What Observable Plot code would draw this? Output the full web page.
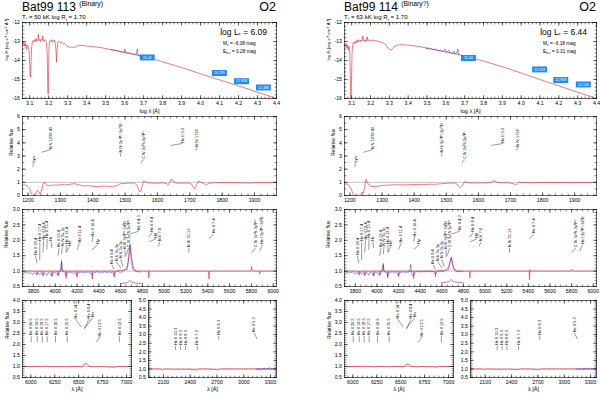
<!DOCTYPE html>
<html><head><meta charset="utf-8">
<script src="https://cdn.jsdelivr.net/npm/d3@7"></script>
<script src="https://cdn.jsdelivr.net/npm/@observablehq/plot@0.6"></script>
<style>
html,body{margin:0;padding:0;background:#fff;}
#fig{position:relative;width:600px;height:394px;overflow:hidden;background:#fff;}
#fig svg{position:absolute;}
</style></head><body><div id="fig"></div>
<script>
// ---------------- header values ----------------
const stars = ["Bat99 113", "Bat99 114"];
const binaryNotes = ["(Binary)", "(Binary?)"];
const spTypes = ["O2", "O2"];
const tStars = ["50", "63"];
const logRts = ["1.70", "1.70"];
const logLs = ["6.09", "6.44"];
const mvs = ["-6.08", "-6.18"];
const ebvs = ["0.28", "0.31"];

// ---------------- photometry boxes ----------------
const photMag113 = ["15.41", "13.235", "12.958", "12.486"];
const photLogLam113 = [3.719, 4.099, 4.216, 4.331];
const photLogF113 = [-13.84, -14.66, -15.09, -15.42];
const photMag114 = ["15.40", "13.193", "12.958", "12.156"];
const photLogLam114 = [3.720, 4.098, 4.210, 4.330];
const photLogF114 = [-13.87, -14.47, -15.03, -15.26];

// ---------------- SED model / observed (log lambda, log f) ----------------
const sedModel113 = [[3.062,-13.05],[3.066,-13.15],[3.070,-13.02],[3.074,-13.25],[3.078,-13.10],[3.082,-13.40],[3.086,-13.18],[3.090,-13.22],[3.094,-13.35],[3.098,-13.60],[3.101,-14.50],[3.104,-14.88],[3.107,-14.20],[3.110,-13.30],[3.114,-13.05],[3.118,-12.95],[3.122,-13.02],[3.126,-12.90],[3.130,-13.00],[3.134,-12.85],[3.138,-12.98],[3.142,-12.92],[3.146,-12.62],[3.149,-12.95],[3.153,-12.90],[3.157,-13.00],[3.161,-12.88],[3.165,-12.95],[3.169,-12.70],[3.172,-12.93],[3.176,-12.98],[3.180,-12.90],[3.184,-12.95],[3.188,-13.05],[3.192,-13.60],[3.195,-15.20],[3.197,-15.76],[3.199,-14.80],[3.202,-13.20],[3.206,-12.95],[3.210,-12.98],[3.214,-12.90],[3.218,-13.02],[3.222,-12.95],[3.226,-13.00],[3.230,-12.92],[3.234,-13.05],[3.238,-13.40],[3.241,-14.09],[3.244,-13.50],[3.248,-13.02],[3.254,-12.98],[3.260,-13.05],[3.266,-13.02],[3.272,-13.08],[3.278,-13.12],[3.284,-13.10],[3.290,-13.18],[3.296,-13.22],[3.302,-13.30],[3.308,-13.26],[3.314,-13.32],[3.320,-13.28],[3.326,-13.34],[3.332,-13.27],[3.338,-13.31],[3.345,-13.25],[3.355,-13.22],[3.370,-13.20],[3.385,-13.22],[3.400,-13.24],[3.420,-13.26],[3.440,-13.28],[3.460,-13.30],[3.480,-13.33],[3.500,-13.37],[3.525,-13.42],[3.550,-13.47],[3.575,-13.53],[3.600,-13.58],[3.625,-13.63],[3.650,-13.68],[3.683,-13.75],[3.700,-13.80],[3.750,-13.93],[3.800,-14.07],[3.850,-14.22],[3.900,-14.37],[3.950,-14.53],[4.000,-14.70],[4.050,-14.86],[4.100,-15.02],[4.150,-15.18],[4.200,-15.34],[4.250,-15.50],[4.300,-15.67],[4.350,-15.83],[4.400,-16.00]];
const sedObs113 = [[3.525,-13.40],[3.533,-13.46],[3.541,-13.42],[3.549,-13.50],[3.557,-13.45],[3.565,-13.53],[3.573,-13.49],[3.581,-13.56],[3.589,-13.52],[3.597,-13.60],[3.601,-13.40],[3.605,-13.58],[3.613,-13.62],[3.621,-13.58],[3.629,-13.65],[3.637,-13.62],[3.645,-13.68],[3.653,-13.64],[3.661,-13.70],[3.667,-13.40],[3.671,-13.72],[3.679,-13.76],[3.683,-13.74]];
const sedModel114 = [[3.062,-13.17],[3.066,-13.25],[3.070,-13.10],[3.074,-13.35],[3.078,-13.20],[3.082,-13.45],[3.086,-13.25],[3.090,-13.60],[3.093,-14.80],[3.096,-16.00],[3.099,-15.20],[3.102,-13.60],[3.106,-13.15],[3.110,-13.05],[3.114,-13.12],[3.118,-13.00],[3.122,-13.08],[3.126,-12.95],[3.130,-13.05],[3.134,-12.90],[3.138,-13.00],[3.142,-12.95],[3.146,-13.02],[3.150,-12.92],[3.154,-12.98],[3.158,-12.70],[3.162,-12.95],[3.166,-12.90],[3.170,-13.00],[3.174,-12.92],[3.178,-12.97],[3.182,-12.75],[3.186,-12.95],[3.190,-12.90],[3.195,-12.98],[3.200,-12.92],[3.206,-12.95],[3.212,-12.93],[3.218,-12.96],[3.225,-12.95],[3.235,-12.98],[3.245,-13.00],[3.255,-13.03],[3.265,-13.06],[3.275,-13.12],[3.285,-13.22],[3.292,-13.35],[3.300,-13.42],[3.308,-13.45],[3.316,-13.40],[3.324,-13.30],[3.332,-13.24],[3.340,-13.20],[3.355,-13.18],[3.370,-13.17],[3.390,-13.18],[3.410,-13.20],[3.430,-13.22],[3.450,-13.25],[3.475,-13.30],[3.500,-13.35],[3.525,-13.40],[3.550,-13.45],[3.575,-13.50],[3.600,-13.55],[3.625,-13.60],[3.650,-13.65],[3.675,-13.70],[3.700,-13.76],[3.750,-13.89],[3.800,-14.03],[3.850,-14.18],[3.900,-14.33],[3.950,-14.49],[4.000,-14.66],[4.050,-14.83],[4.100,-15.00],[4.150,-15.17],[4.200,-15.33],[4.250,-15.50],[4.300,-15.67],[4.350,-15.83],[4.400,-16.00]];
const sedObs114 = [[3.492,-13.33],[3.500,-13.38],[3.508,-13.34],[3.516,-13.41],[3.524,-13.37],[3.532,-13.44],[3.540,-13.40],[3.548,-13.47],[3.556,-13.43],[3.564,-13.50],[3.572,-13.46],[3.580,-13.53],[3.588,-13.49],[3.596,-13.40],[3.600,-13.57],[3.608,-13.52],[3.616,-13.45],[3.620,-13.60],[3.628,-13.56],[3.636,-13.63],[3.644,-13.50],[3.648,-13.66],[3.656,-13.62],[3.664,-13.40],[3.668,-13.68]];

// ---------------- UV spectra (lambda, relative flux) ----------------
const uv113 = [[1183,0.78],[1192,0.80],[1200,0.70],[1206,0.45],[1211,0.12],[1216,0.0],[1221,0.02],[1226,0.25],[1229,0.38],[1233,0.30],[1237,0.13],[1241,0.30],[1246,0.80],[1250,1.01],[1254,0.90],[1259,0.76],[1268,0.74],[1278,0.80],[1290,0.78],[1302,0.83],[1316,0.80],[1331,0.86],[1344,0.90],[1356,0.82],[1372,0.72],[1386,0.75],[1401,0.70],[1416,0.66],[1431,0.72],[1446,0.70],[1461,0.68],[1476,0.76],[1486,0.90],[1501,0.92],[1516,0.95],[1528,0.94],[1536,0.80],[1542,0.45],[1546,0.25],[1550,0.40],[1554,0.85],[1558,1.10],[1564,1.02],[1576,0.95],[1596,0.93],[1616,0.96],[1628,0.90],[1634,0.82],[1639,1.05],[1643,1.26],[1648,1.10],[1656,0.95],[1676,0.94],[1696,0.95],[1706,0.85],[1711,0.62],[1715,0.50],[1720,0.75],[1727,1.10],[1734,1.00],[1744,0.92],[1751,0.80],[1758,0.92],[1776,0.97],[1806,0.98],[1846,0.97],[1886,0.94],[1896,0.97],[1968,0.98]];
const uv114 = [[1183,0.88],[1192,0.86],[1200,0.70],[1206,0.35],[1211,0.05],[1218,0.0],[1226,0.0],[1234,0.05],[1238,0.25],[1242,0.18],[1246,0.70],[1250,1.22],[1255,0.95],[1261,0.75],[1268,0.68],[1281,0.70],[1296,0.74],[1311,0.78],[1326,0.80],[1346,0.82],[1366,0.80],[1386,0.82],[1406,0.84],[1426,0.82],[1446,0.86],[1466,0.85],[1486,0.90],[1506,0.94],[1526,0.95],[1534,0.85],[1540,0.65],[1544,0.60],[1550,0.72],[1557,1.05],[1564,0.98],[1581,0.95],[1606,0.96],[1631,0.96],[1641,1.02],[1649,1.13],[1656,1.02],[1671,0.97],[1696,0.96],[1708,0.90],[1716,0.82],[1722,0.88],[1728,1.02],[1736,0.98],[1766,0.97],[1806,0.99],[1866,0.98],[1968,0.99]];

// ---------------- optical spectra ----------------
const optObs113 = [[3700,0.96],[3712,0.93],[3724,0.97],[3736,0.94],[3748,0.96],[3760,0.92],[3772,0.95],[3784,0.93],[3796,0.89],[3808,0.95],[3820,0.93],[3834,0.87],[3846,0.95],[3858,0.89],[3870,0.96],[3887,0.85],[3900,0.95],[3912,0.93],[3923,0.86],[3936,0.96],[3950,0.94],[3970,0.83],[3984,0.96],[3998,0.95],[4012,0.93],[4026,0.86],[4040,0.97],[4050,1.06],[4058,1.35],[4064,1.08],[4074,0.97],[4088,0.95],[4100,0.85],[4112,0.96],[4126,0.94],[4140,0.97],[4154,0.95],[4168,0.93],[4182,0.96],[4200,0.87],[4214,0.96],[4228,0.95],[4242,0.97],[4256,0.94],[4270,0.96],[4284,0.95],[4298,0.97],[4312,0.93],[4326,0.95],[4340,0.86],[4354,0.96],[4368,0.95],[4382,0.98],[4396,0.96],[4410,0.94],[4424,0.97],[4438,0.95],[4452,0.98],[4466,0.96],[4480,0.94],[4494,0.97],[4508,0.95],[4522,0.96],[4541,0.87],[4556,0.97],[4570,0.99],[4584,0.98],[4598,0.95],[4612,0.98],[4626,1.02],[4640,1.04],[4652,1.10],[4664,1.20],[4674,1.45],[4682,1.78],[4688,1.88],[4694,1.72],[4702,1.42],[4712,1.18],[4724,1.06],[4738,1.00],[4752,0.97],[4766,0.99],[4780,0.96]];
const optModel113 = [[3700,1.0],[3830,1.0],[3834,0.9],[3838,1.0],[3884,1.0],[3889,0.86],[3894,1.0],[3966,1.0],[3970,0.84],[3974,1.0],[4022,1.0],[4026,0.86],[4030,1.0],[4054,1.0],[4058,1.3],[4062,1.0],[4096,1.0],[4100,0.76],[4104,1.0],[4196,1.0],[4200,0.8],[4204,1.0],[4336,1.0],[4340,0.74],[4344,1.0],[4537,1.0],[4541,0.8],[4545,1.0],[4660,1.05],[4675,1.4],[4686,1.8],[4697,1.4],[4712,1.05],[4740,1.0],[4855,1.0],[4859,0.78],[4862,0.92],[4866,1.02],[4872,1.0],[5406,1.0],[5411,0.74],[5416,1.0],[5796,1.0],[5801,1.15],[5806,1.06],[5812,1.0],[5871,1.0],[5876,0.9],[5881,1.0],[6030,1.0]];
const optResid113 = [[4600,0.60],[4640,0.61],[4665,0.63],[4680,0.68],[4690,0.69],[4705,0.63],[4740,0.61],[4790,0.60]];
const optObs114 = [[3700,0.98],[3712,0.95],[3724,0.97],[3736,0.93],[3748,0.96],[3760,0.94],[3772,0.97],[3784,0.95],[3796,0.90],[3808,0.96],[3820,0.94],[3834,0.88],[3846,0.97],[3858,0.90],[3870,0.96],[3887,0.85],[3900,0.97],[3912,0.94],[3923,0.87],[3936,0.97],[3950,0.95],[3970,0.84],[3984,0.97],[3998,0.95],[4012,0.93],[4026,0.86],[4040,0.98],[4050,1.08],[4058,1.25],[4064,1.05],[4074,0.96],[4088,0.95],[4100,0.84],[4112,0.97],[4126,0.95],[4140,0.98],[4154,0.94],[4168,0.97],[4182,0.95],[4200,0.86],[4214,0.97],[4228,0.95],[4242,0.98],[4256,0.94],[4270,0.97],[4284,0.95],[4298,0.98],[4306,1.05],[4312,1.22],[4318,1.0],[4326,0.85],[4340,0.88],[4354,0.96],[4368,0.99],[4382,0.97],[4396,1.0],[4410,0.96],[4424,0.99],[4438,0.97],[4452,1.0],[4466,0.98],[4480,1.01],[4494,0.97],[4508,1.0],[4522,0.98],[4541,0.90],[4556,0.99],[4570,1.01],[4584,0.98],[4598,1.0],[4612,0.97],[4626,1.02],[4640,1.04],[4652,1.08],[4664,1.15],[4674,1.28],[4682,1.40],[4688,1.46],[4694,1.38],[4702,1.22],[4712,1.10],[4724,1.03],[4738,1.0],[4752,0.98],[4766,1.0],[4780,0.97],[4792,0.99]];
const optModel114 = [[3700,1.0],[3830,1.0],[3834,0.9],[3838,1.0],[3884,1.0],[3889,0.87],[3894,1.0],[3966,1.0],[3970,0.85],[3974,1.0],[4022,1.0],[4026,0.87],[4030,1.0],[4054,1.0],[4058,1.2],[4062,1.0],[4096,1.0],[4100,0.78],[4104,1.0],[4196,1.0],[4200,0.82],[4204,1.0],[4336,1.0],[4340,0.76],[4344,1.0],[4537,1.0],[4541,0.82],[4545,1.0],[4660,1.04],[4675,1.25],[4686,1.42],[4697,1.25],[4712,1.04],[4740,1.0],[4855,1.0],[4859,0.78],[4862,0.92],[4866,1.02],[4872,1.0],[5406,1.0],[5411,0.72],[5414,1.05],[5418,1.0],[5796,1.0],[5801,1.06],[5806,1.03],[5812,1.0],[6030,1.0]];
const optResid114 = [[4600,0.63],[4640,0.64],[4665,0.66],[4680,0.71],[4690,0.72],[4705,0.66],[4740,0.64],[4790,0.63]];

// ---------------- red window (6000-7000 A) ----------------
const irModel113 = [[5913,1.0],[6040,1.0],[6130,0.99],[6150,1.03],[6170,1.0],[6236,0.98],[6250,1.0],[6400,0.98],[6420,1.0],[6515,1.0],[6530,0.96],[6545,1.02],[6560,1.1],[6575,1.16],[6592,1.08],[6610,1.0],[6680,0.98],[6700,1.0],[6885,0.96],[6900,1.0],[7052,1.0]];
const irObs113 = [[6480,1.0],[6520,1.01],[6545,1.06],[6565,1.12],[6580,1.15],[6600,1.06],[6630,1.0]];
const irModel114 = [[5913,1.0],[6040,1.0],[6130,0.99],[6150,1.02],[6170,1.0],[6236,0.98],[6250,1.0],[6400,0.98],[6420,1.0],[6515,1.0],[6530,0.97],[6545,1.02],[6560,1.08],[6575,1.13],[6592,1.06],[6610,1.0],[6680,0.98],[6700,1.0],[6885,0.97],[6900,1.0],[7052,1.0]];
const irObs114 = [[6480,1.0],[6520,1.01],[6545,1.05],[6565,1.1],[6580,1.12],[6600,1.05],[6630,1.0]];

// ---------------- near-UV window (2000-3300 A) ----------------
const nuvModel113 = [[1932,1.0],[2060,1.0],[2090,0.94],[2110,1.0],[2200,0.99],[2235,0.97],[2250,1.0],[2291,0.97],[2305,1.0],[2347,0.97],[2360,1.0],[2478,0.94],[2495,1.0],[2600,1.0],[2720,0.94],[2735,1.0],[2900,1.0],[3100,1.0],[3367,1.0]];
const nuvObs113 = [[3140,1.0],[3155,0.97],[3170,1.02],[3185,0.96],[3200,1.03],[3215,0.98],[3230,1.05],[3245,0.95],[3260,1.04],[3275,0.99],[3290,1.08],[3305,0.97],[3320,1.03],[3335,0.96],[3350,1.05],[3367,1.0]];
const nuvModel114 = [[1932,1.0],[2060,1.0],[2090,0.96],[2110,1.0],[2200,0.99],[2235,0.97],[2250,1.0],[2291,0.97],[2305,1.0],[2347,0.97],[2360,1.0],[2478,0.95],[2495,1.0],[2600,1.0],[2720,0.95],[2735,1.0],[2900,1.0],[3100,1.0],[3367,1.0]];
const nuvObs114 = [[3135,1.0],[3150,0.96],[3165,1.03],[3180,0.97],[3195,1.04],[3210,0.96],[3225,1.02],[3240,0.98],[3255,1.05],[3270,0.97],[3285,1.03],[3300,0.98],[3315,1.04],[3330,0.97],[3345,1.02],[3367,0.99]];

// ---------------- line identifications: [label, line lambda, text lambda, y at line, y at text] ----------------
const uvLines = [["Lyα",1215,1217,2.15,2.45],["N V 1239-43",1242,1270,3.28,3.48],["N IV 2p¹P°-2p²¹D",1486,1486,2.95,3.2],["C IV 2s²S-2p²P°",1548,1557,2.45,2.72],["He II 3-2",1640,1677,3.8,3.95],["N IV 1718",1718,1723,3.4,3.65]];
const optLines = [["He II 18-4",3834,3819,1.25,1.5],["He II 17-4",3858,3859,1.35,1.95],["He II 16-4",3887,3895,1.6,2.0],["He II 15-4",3923,3927,1.7,2.05],["Hε",3970,3963,1.75,1.95],["He II 13-4",4026,4037,1.5,1.75],["N IV 3s-3p",4058,4066,1.55,1.8],["He II 12-4",4100,4103,1.62,1.85],["Hδ",4102,4130,1.6,1.8],["He II 11-4",4200,4222,1.7,1.9],["He II 10-4",4339,4347,1.95,2.1],["Hγ",4340,4390,1.7,1.85],["He II 9-4",4541,4520,1.05,1.2],["N V 3s-3p",4604,4560,1.1,1.3],["N V 3s-3p",4620,4600,1.15,1.4],["N III 3p²P°-3d²D",4640,4640,1.45,1.7],["C III 3s³S-3p³P°",4650,4672,1.5,1.75],["He II 4-3",4686,4770,2.2,2.3],["He II 8-4",4859,4890,2.1,2.25],["Hβ",4861,4925,1.95,2.05],["N V 7-6",4945,4960,1.8,1.95],["N IV 15-13",5226,5226,1.6,1.75],["He II 7-4",5411,5450,2.05,2.2],["C IV 3s²S-3p²P°",5801,5838,1.6,1.75],["He I 2p³P°-3d³D",5876,5899,1.65,1.85]];
const irLines = [["He II 20-5",6004,6004,2.1,2.38],["He II 19-5",6067,6067,2.1,2.38],["He II 18-5",6119,6119,2.1,2.38],["He II 17-5",6171,6171,2.1,2.38],["He II 16-5",6258,6258,2.1,2.38],["He II 15-5",6380,6380,2.1,2.38],["He II 14-5",6527,6467,2.8,3.15],["He II 6-4",6560,6606,2.7,3.15],["Hα",6563,6645,2.75,3.2],["He II 13-5",6683,6721,2.1,2.33],["He II 12-5",6925,6925,2.1,2.38]];
const nuvLines = [["He II 10-3",2235,2235,2.1,2.35],["He II 9-3",2291,2291,2.1,2.35],["He II 8-3",2347,2347,2.1,2.35],["He II 7-3",2478,2478,2.1,2.35],["He II 6-3",2720,2720,2.7,2.95],["He II 5-3",3150,3115,2.75,3.1]];

// ---------------- tick labels ----------------
const sedXTicks = [3.1,3.2,3.3,3.4,3.5,3.6,3.7,3.8,3.9,4.0,4.1,4.2,4.3,4.4];
const sedYTicks = [-16,-15,-14,-13,-12];
const uvXTicks = [1200,1300,1400,1500,1600,1700,1800,1900];
const uvYTicks = [0,1,2,3,4,5,6];
const optXTicks = [3800,4000,4200,4400,4600,4800,5000,5200,5400,5600,5800,6000];
const optYTicks = [0.5,1.0,1.5,2.0,2.5,3.0];
const irXTicks = [6000,6250,6500,6750,7000];
const irYTicks = [0.5,1.0,1.5,2.0,2.5,3.0,3.5,4.0];
const nuvXTicks = [2100,2400,2700,3000,3300];
const nuvYTicks = [0.5,1.0,1.5,2.0,2.5,3.0,3.5,4.0,4.5,5.0];

// ---------------- drawing ----------------
const FONT = '"Liberation Sans", Arial, Helvetica, sans-serif';
const RED = "#ec1c24", BLUE = "#2424d8", BOXBLUE = "#1e8cf0", RESID = "#9a1a8a";
const fig = document.getElementById("fig");
const tickShape = {draw(c, l) { c.moveTo(0, 0); c.lineTo(0, -l); }};
const boxShape = {draw(c) { c.rect(-7.5, -3, 15, 6); }};
const rng = (a, b, s) => d3.range(Math.ceil(a / s - 1e-9) * s, b + 1e-9, s);

function frameTicks(xd, yd, xMaj, yMaj, xs, ys) {
  const t = (data, ch, anchor, rotate, length) => Plot.vector(data, {[ch]: d => d, frameAnchor: anchor, rotate, length, anchor: "start", shape: tickShape, stroke: "black", strokeWidth: 0.5});
  const xMin = rng(xd[0], xd[1], xs), yMin = rng(yd[0], yd[1], ys);
  return [
    t(xMaj, "x", "bottom", 0, 3), t(xMaj, "x", "top", 180, 3),
    t(xMin, "x", "bottom", 0, 1.5), t(xMin, "x", "top", 180, 1.5),
    t(yMaj, "y", "left", 90, 3), t(yMaj, "y", "right", 270, 3),
    t(yMin, "y", "left", 90, 1.5), t(yMin, "y", "right", 270, 1.5)
  ];
}

function lineLabels(list) {
  return [
    Plot.link(list, {x1: d => d[1], y1: d => d[3], x2: d => d[2], y2: d => d[4], stroke: "black", strokeWidth: 0.4}),
    Plot.text(list, {x: d => d[2], y: d => d[4], text: d => d[0], rotate: -90, textAnchor: "start", dy: -0.8, fontSize: 3.9})
  ];
}

function spec(data, stroke, w = 0.6, extra = {}) {
  return Plot.line(data, {x: d => d[0], y: d => d[1], stroke, strokeWidth: w, clip: true, ...extra});
}

function panel(p) {
  const ml = 32, mr = 6, mt = 6, mb = 20;
  const w = p.x1 - p.x0, h = p.y1 - p.y0;
  const marks = [
    ...p.marks,
    Plot.frame({stroke: "black", strokeWidth: 0.6}),
    ...frameTicks(p.xd, p.yd, p.xMaj, p.yMaj, p.xs, p.ys),
    Plot.text(p.xMaj, {x: d => d, frameAnchor: "bottom", dy: p.xdy ?? 2.5, lineAnchor: "top", text: p.xFmt, fontSize: 5.2}),
    Plot.text(p.yMaj, {y: d => d, frameAnchor: "left", dx: -2.5, textAnchor: "end", text: p.yFmt, fontSize: 5.2})
  ];
  if (p.xLabel) marks.push(Plot.text([p.xLabel], {frameAnchor: "bottom", dy: p.xLabelDy, lineAnchor: "top", text: d => d, fontSize: 5.6}));
  if (p.yLabel) marks.push(Plot.text([p.yLabel], {frameAnchor: "left", dx: -p.yLabelDx, rotate: -90, text: d => d, fontSize: p.yLabelSize ?? 5}));
  const svg = Plot.plot({
    width: w + ml + mr, height: h + mt + mb,
    marginLeft: ml, marginRight: mr, marginTop: mt, marginBottom: mb,
    x: {domain: p.xd, axis: null}, y: {domain: p.yd, axis: null},
    style: {fontFamily: FONT, color: "black", background: "none", overflow: "visible"},
    marks
  });
  svg.style.position = "absolute";
  svg.style.left = (p.x0 - ml) + "px";
  svg.style.top = (p.y0 - mt) + "px";
  fig.append(svg);
}

const f1 = d3.format(".1f");
const data = [
  {sedM: sedModel113, sedO: sedObs113, mag: photMag113, pl: photLogLam113, pf: photLogF113, uv: uv113, oo: optObs113, om: optModel113, or: optResid113, im: irModel113, io: irObs113, nm: nuvModel113, no: nuvObs113},
  {sedM: sedModel114, sedO: sedObs114, mag: photMag114, pl: photLogLam114, pf: photLogF114, uv: uv114, oo: optObs114, om: optModel114, or: optResid114, im: irModel114, io: irObs114, nm: nuvModel114, no: nuvObs114}
];
// column offsets: left edge shift, right edge shift
const colL = [0, 322], colR = [0, 320];

data.forEach((s, i) => {
  const a = colL[i], b = colR[i];
  const phot = s.mag.map((m, k) => ({m, x: s.pl[k], y: s.pf[k]}));
  // SED
  panel({x0: 22 + a, x1: 276 + b, y0: 22, y1: 98, xd: [3.062, 4.4], yd: [-16, -12],
    xMaj: sedXTicks, yMaj: sedYTicks, xs: 0.02, ys: 0.2, xFmt: f1, yFmt: d => String(d), xdy: 3,
    xLabel: "log λ [Å]", xLabelDy: 10.5, yLabel: "log fλ [erg s⁻¹ cm⁻² Å⁻¹]", yLabelDx: 16, yLabelSize: 4.3,
    marks: [
      spec(s.sedM, RED, 0.6),
      spec(s.sedO, BLUE, 0.6, {strokeOpacity: 0.85}),
      Plot.dot(phot, {x: "x", y: "y", symbol: boxShape, fill: BOXBLUE, stroke: "none"}),
      Plot.text(phot, {x: "x", y: "y", text: "m", fill: "white", fontSize: 3.6})
    ]});
  // UV
  panel({x0: 22 + a, x1: 276 + b, y0: 116, y1: 195, xd: [1183, 1968], yd: [0, 6],
    xMaj: uvXTicks, yMaj: uvYTicks, xs: 20, ys: 0.5, xFmt: d => String(d), yFmt: d => String(d),
    yLabel: "Relative flux", yLabelDx: 11,
    marks: [Plot.ruleY([1], {stroke: "#888", strokeWidth: 0.5}), spec(s.uv, RED, 0.6), ...lineLabels(uvLines)]});
  // optical
  panel({x0: 22 + a, x1: 276 + b, y0: 209, y1: 286, xd: [3700, 6030], yd: [0.5, 3.0],
    xMaj: optXTicks, yMaj: optYTicks, xs: 50, ys: 0.1, xFmt: d => String(d), yFmt: f1,
    yLabel: "Relative flux", yLabelDx: 16.5,
    marks: [Plot.ruleY([1], {stroke: "#888", strokeWidth: 0.5}), spec(s.om, RED, 0.6), spec(s.oo, BLUE, 0.55, {strokeOpacity: 0.85}), spec(s.or, RESID, 0.6), ...lineLabels(optLines)]});
  // 6000-7000
  panel({x0: 22 + a, x1: 131 + a, y0: 300, y1: 377, xd: [5913, 7052], yd: [0.5, 4.0],
    xMaj: irXTicks, yMaj: irYTicks, xs: 50, ys: 0.1, xFmt: d => String(d), yFmt: f1,
    xLabel: "λ [Å]", xLabelDy: 10, yLabel: "Relative flux", yLabelDx: 15,
    marks: [Plot.ruleY([1], {stroke: "#888", strokeWidth: 0.5}), spec(s.io, "#f4a3aa", 0.6), spec(s.im, RED, 0.6), ...lineLabels(irLines)]});
  // near UV
  panel({x0: 148 + a, x1: 276 + b, y0: 300, y1: 377, xd: [1932, 3367], yd: [0.5, 5.0],
    xMaj: nuvXTicks, yMaj: nuvYTicks, xs: 50, ys: 0.1, xFmt: d => String(d), yFmt: f1,
    xLabel: "λ [Å]", xLabelDy: 10,
    marks: [Plot.ruleY([1], {stroke: "#888", strokeWidth: 0.5}), spec(s.nm, RED, 0.6), spec(s.no, BLUE, 0.6), ...lineLabels(nuvLines)]});
});

// ---------------- header texts ----------------
const ov = d3.select(fig).append("svg").attr("width", 600).attr("height", 394)
  .style("left", "0px").style("top", "0px").attr("font-family", FONT).attr("fill", "black");
function rich(x, y, size, parts, anchor = "start") {
  const t = ov.append("text").attr("x", x).attr("y", y).attr("font-size", size).attr("text-anchor", anchor);
  let off = 0;
  parts.forEach(([str, kind, sz]) => {
    const target = kind === "sub" ? size * 0.3 : kind === "sup" ? -size * 0.4 : 0;
    const sp = t.append("tspan").text(str).attr("dy", target - off);
    if (kind !== "n" || sz) sp.attr("font-size", sz ?? size * 0.65);
    off = target;
  });
}
stars.forEach((s, i) => {
  const a = colL[i], b = colR[i];
  rich(22 + a, 10.8, 12, [[s + " ", "n"], [binaryNotes[i], "sup", 6.8]]);
  rich(22 + a, 19.3, 6.1, [["T", "n"], ["*", "sub"], [" =  " + tStars[i] + " kK   log R", "n"], ["t", "sub"], [" = " + logRts[i], "n"]]);
  rich(276 + b, 11, 12.5, [[spTypes[i], "n"]], "end");
  rich(267 + b, 34.5, 8.5, [["log L", "n"], ["*", "sub"], [" = " + logLs[i], "n"]], "end");
  rich(223 + b, 44.5, 4.8, [["M", "n"], ["v", "sub"], [" = " + mvs[i] + " mag", "n"]]);
  rich(223 + b, 52.5, 4.8, [["E", "n"], ["b-v", "sub"], [" = " + ebvs[i] + " mag", "n"]]);
});
</script></body></html>
